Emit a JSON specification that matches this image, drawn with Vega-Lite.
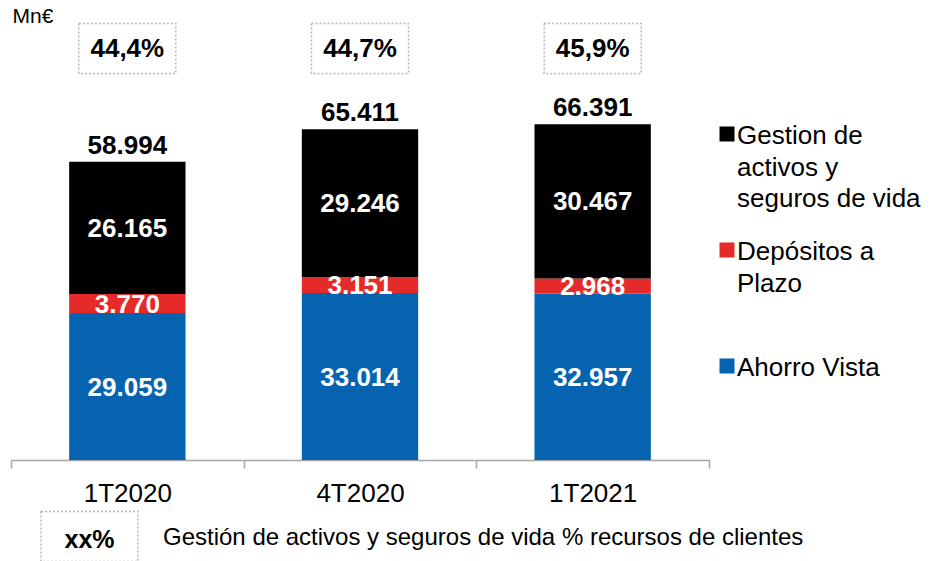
{
  "$schema": "https://vega.github.io/schema/vega-lite/v6.json",
  "width": 698,
  "height": 455,
  "autosize": {"type": "none"},
  "padding": {"left": 11, "top": 5, "right": 221, "bottom": 101},
  "background": "white",
  "config": {
    "view": {"stroke": null},
    "font": "Liberation Sans",
    "locale": {"number": {"decimal": ",", "thousands": ".", "grouping": [3], "currency": ["", "€"]}}
  },
  "datasets": {
    "recursos": [
      {"periodo": "1T2020", "serie": "Ahorro Vista", "valor": 29059},
      {"periodo": "1T2020", "serie": "Depósitos a Plazo", "valor": 3770},
      {"periodo": "1T2020", "serie": "Gestion de activos y seguros de vida", "valor": 26165},
      {"periodo": "4T2020", "serie": "Ahorro Vista", "valor": 33014},
      {"periodo": "4T2020", "serie": "Depósitos a Plazo", "valor": 3151},
      {"periodo": "4T2020", "serie": "Gestion de activos y seguros de vida", "valor": 29246},
      {"periodo": "1T2021", "serie": "Ahorro Vista", "valor": 32957},
      {"periodo": "1T2021", "serie": "Depósitos a Plazo", "valor": 2968},
      {"periodo": "1T2021", "serie": "Gestion de activos y seguros de vida", "valor": 30467}
    ],
    "totales": [
      {"periodo": "1T2020", "total": 58994, "pct": 0.444},
      {"periodo": "4T2020", "total": 65411, "pct": 0.447},
      {"periodo": "1T2021", "total": 66391, "pct": 0.459}
    ],
    "nota": [
      {"periodo": "1T2020", "marca": "xx%", "texto": "Gestión de activos y seguros de vida % recursos de clientes"}
    ]
  },
  "layer": [
    {
      "data": {"name": "recursos"},
      "transform": [
        {"stack": "valor", "groupby": ["periodo"], "sort": [{"field": "serie", "order": "ascending"}], "as": ["v0", "v1"]}
      ],
      "mark": {"type": "bar", "width": {"band": 0.5}},
      "encoding": {
        "x": {
          "field": "periodo", "type": "nominal", "sort": ["1T2020", "4T2020", "1T2021"],
          "scale": {"paddingInner": 0, "paddingOuter": 0},
          "axis": {
            "title": null, "labelAngle": 0, "labelFontSize": 26, "labelFont": "Liberation Sans", "labelColor": "#000000",
            "labelPadding": 12, "domainColor": "#A6A6A6", "domainWidth": 1.5, "tickColor": "#A6A6A6", "tickWidth": 1.5,
            "tickSize": 8, "tickBand": "extent", "grid": false
          }
        },
        "y": {
          "field": "v1", "type": "quantitative", "scale": {"domain": [0, 90000]},
          "axis": {
            "title": "Mn€", "titleAngle": 0, "titleX": 1, "titleY": 17.7, "titleAlign": "left", "titleBaseline": "alphabetic",
            "titleFontSize": 21, "titleFontWeight": "normal", "titleFont": "Liberation Sans", "titleColor": "#000000",
            "labels": false, "ticks": false, "domain": false, "grid": false
          }
        },
        "y2": {"field": "v0"},
        "color": {
          "field": "serie", "type": "nominal",
          "scale": {
            "domain": ["Gestion de activos y seguros de vida", "Depósitos a Plazo", "Ahorro Vista"],
            "range": ["#000000", "#E52A2A", "#0563AF"]
          },
          "legend": {
            "title": null, "orient": "none", "legendX": 703, "legendY": 116, "padding": 0,
            "symbolType": "square", "symbolSize": 225, "symbolStrokeWidth": 0, "symbolOpacity": 1,
            "labelFontSize": 26, "labelFont": "Liberation Sans", "labelColor": "#000000", "labelLimit": 300,
            "labelOffset": -3, "labelBaseline": "top", "rowPadding": 25,
            "labelExpr": "datum.label == 'Ahorro Vista' ? ['Ahorro Vista'] : datum.label == 'Depósitos a Plazo' ? ['Depósitos a', 'Plazo', ''] : ['Gestion de', 'activos y', 'seguros de vida']",
            "encode": {"labels": {"update": {"dy": {"value": -11}, "lineHeight": {"value": 31.5}}}}
          }
        }
      }
    },
    {
      "data": {"name": "recursos"},
      "transform": [
        {"stack": "valor", "groupby": ["periodo"], "sort": [{"field": "serie", "order": "ascending"}], "as": ["v0", "v1"]},
        {"calculate": "(datum.v0 + datum.v1) / 2", "as": "mid"}
      ],
      "mark": {"type": "text", "color": "#FFFFFF", "fontSize": 26, "fontWeight": "bold", "baseline": "middle", "dy": 1},
      "encoding": {
        "x": {"field": "periodo", "type": "nominal", "sort": ["1T2020", "4T2020", "1T2021"]},
        "y": {"field": "mid", "type": "quantitative"},
        "text": {"field": "valor", "type": "quantitative", "format": ",d"}
      }
    },
    {
      "data": {"name": "totales"},
      "mark": {"type": "text", "color": "#000000", "fontSize": 26, "fontWeight": "bold", "baseline": "alphabetic", "dy": -8},
      "encoding": {
        "x": {"field": "periodo", "type": "nominal", "sort": ["1T2020", "4T2020", "1T2021"]},
        "y": {"field": "total", "type": "quantitative"},
        "text": {"field": "total", "type": "quantitative", "format": ",d"}
      }
    },
    {
      "data": {"name": "totales"},
      "mark": {"type": "bar", "width": {"band": 0.417}, "fill": "#FFFFFF", "stroke": "#B4B4B4", "strokeWidth": 1.5, "strokeDash": [2, 2]},
      "encoding": {
        "x": {"field": "periodo", "type": "nominal", "sort": ["1T2020", "4T2020", "1T2021"]},
        "y": {"datum": 86340, "type": "quantitative"},
        "y2": {"datum": 76450}
      }
    },
    {
      "data": {"name": "totales"},
      "mark": {"type": "text", "color": "#000000", "fontSize": 26, "fontWeight": "bold", "baseline": "middle", "dy": 1},
      "encoding": {
        "x": {"field": "periodo", "type": "nominal", "sort": ["1T2020", "4T2020", "1T2021"]},
        "y": {"datum": 81400, "type": "quantitative"},
        "text": {"field": "pct", "type": "quantitative", "format": ".1%"}
      }
    },
    {
      "data": {"name": "nota"},
      "mark": {"type": "point", "shape": "M-1,-0.515L1,-0.515L1,0.515L-1,0.515Z", "size": 9409, "filled": false, "fill": null, "stroke": "#B4B4B4", "strokeWidth": 1.5, "strokeDash": [2, 2], "opacity": 1},
      "encoding": {
        "x": {"field": "periodo", "type": "nominal", "sort": ["1T2020", "4T2020", "1T2021"]},
        "xOffset": {"value": 78.5},
        "y": {"datum": -15132, "type": "quantitative"}
      }
    },
    {
      "data": {"name": "nota"},
      "mark": {"type": "text", "color": "#000000", "fontSize": 25, "fontWeight": "bold", "baseline": "middle", "dy": 1},
      "encoding": {
        "x": {"field": "periodo", "type": "nominal", "sort": ["1T2020", "4T2020", "1T2021"]},
        "xOffset": {"value": 78.5},
        "y": {"datum": -15725, "type": "quantitative"},
        "text": {"field": "marca"}
      }
    },
    {
      "data": {"name": "nota"},
      "mark": {"type": "text", "color": "#000000", "fontSize": 24, "align": "left", "baseline": "alphabetic"},
      "encoding": {
        "x": {"field": "periodo", "type": "nominal", "sort": ["1T2020", "4T2020", "1T2021"]},
        "xOffset": {"value": 152},
        "y": {"datum": -16912, "type": "quantitative"},
        "text": {"field": "texto"}
      }
    }
  ]
}
